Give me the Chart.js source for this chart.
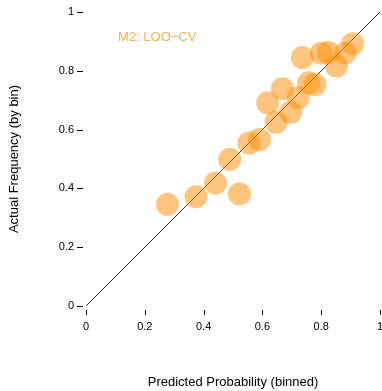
<!DOCTYPE html>
<html>
<head>
<meta charset="utf-8">
<script src="https://cdn.jsdelivr.net/npm/chart.js@4/dist/chart.umd.min.js"></script>
<style>
  body { margin: 0; background: #fff; }
  canvas { display: block; }
</style>
</head>
<body>
<canvas id="calib" width="382" height="391"></canvas>
<script>
// binned calibration points
var predicted = [0.277, 0.374, 0.440, 0.489, 0.522, 0.554, 0.590, 0.618, 0.646, 0.668,
                 0.696, 0.722, 0.736, 0.757, 0.779, 0.800, 0.824, 0.852, 0.881, 0.907];
var actual    = [0.346, 0.372, 0.418, 0.499, 0.381, 0.554, 0.566, 0.691, 0.625, 0.739,
                 0.659, 0.708, 0.845, 0.759, 0.753, 0.860, 0.862, 0.816, 0.860, 0.892];
var tickValues = [0, 0.2, 0.4, 0.6, 0.8, 1];
var tickLabels = ['0', '0.2', '0.4', '0.6', '0.8', '1'];
var diagonal = [0, 1];
var labelText = 'M2: LOO\u2212CV';
var labelPos = [0.109, 0.914];

var FONT = '"Liberation Sans", Arial, Helvetica, sans-serif';

// R-style tick marks, detached from the plot region
var rTicks = {
    id: 'rTicks',
    afterDraw: function(chart) {
        var ctx = chart.ctx;
        var xs = chart.scales.x, ys = chart.scales.y;
        ctx.save();
        ctx.strokeStyle = '#000';
        ctx.lineWidth = 1;
        ctx.beginPath();
        tickValues.forEach(function(v) {
            var px = Math.round(xs.getPixelForValue(v)) + 0.5;
            ctx.moveTo(px, 310);
            ctx.lineTo(px, 315);
            var py = Math.round(ys.getPixelForValue(v)) + 0.5;
            ctx.moveTo(77, py);
            ctx.lineTo(83, py);
        });
        ctx.stroke();

        // model label in the corner
        ctx.fillStyle = 'rgba(255,140,0,0.7)';
        ctx.font = '13px ' + FONT;
        ctx.textBaseline = 'middle';
        ctx.textAlign = 'left';
        ctx.fillText(labelText, xs.getPixelForValue(labelPos[0]), ys.getPixelForValue(labelPos[1]));
        ctx.restore();
    }
};

function fixedTicks(scale) {
    scale.ticks = tickValues.map(function(v) { return {value: v}; });
}

var points = predicted.map(function(p, i) { return {x: p, y: actual[i]}; });

new Chart(document.getElementById('calib'), {
    type: 'scatter',
    data: {
        datasets: [{
            type: 'line',
            data: diagonal.map(function(d) { return {x: d, y: d}; }),
            borderColor: '#333',
            borderWidth: 1,
            pointRadius: 0,
            fill: false,
            order: 2
        }, {
            data: points,
            backgroundColor: 'rgba(255,140,0,0.5)',
            borderWidth: 0,
            pointRadius: 11.5,
            pointHoverRadius: 11.5,
            order: 1
        }]
    },
    options: {
        responsive: false,
        animation: false,
        layout: { autoPadding: false, padding: { top: 12, right: 2, left: 0, bottom: 0 } },
        plugins: {
            legend: { display: false },
            tooltip: { enabled: false }
        },
        scales: {
            x: {
                type: 'linear',
                min: 0, max: 1,
                afterFit: function(scale) {
                    scale.height = 85;
                    scale.paddingLeft = 0;
                    scale.paddingRight = 0;
                },
                afterBuildTicks: fixedTicks,
                grid: { display: true, drawOnChartArea: false, drawTicks: false },
                border: { display: false },
                ticks: {
                    padding: 14,
                    maxRotation: 0,
                    color: '#000',
                    font: { family: FONT, size: 11 },
                    callback: function(v) { return tickLabels[tickValues.indexOf(v)]; }
                },
                title: {
                    display: true,
                    text: 'Predicted Probability (binned)',
                    color: '#000',
                    font: { family: FONT, size: 13 },
                    padding: { top: 0, bottom: 1 }
                }
            },
            y: {
                type: 'linear',
                min: 0, max: 1,
                afterFit: function(scale) {
                    scale.width = 86;
                    scale.paddingTop = 0;
                    scale.paddingBottom = 0;
                },
                afterBuildTicks: fixedTicks,
                grid: { display: true, drawOnChartArea: false, drawTicks: false },
                border: { display: false },
                ticks: {
                    padding: 12,
                    color: '#000',
                    font: { family: FONT, size: 11 },
                    callback: function(v) { return tickLabels[tickValues.indexOf(v)]; }
                },
                title: {
                    display: true,
                    text: 'Actual Frequency (by bin)',
                    color: '#000',
                    font: { family: FONT, size: 13 },
                    padding: { top: 7, bottom: 0 }
                }
            }
        }
    },
    plugins: [rTicks]
});
</script>
</body>
</html>
